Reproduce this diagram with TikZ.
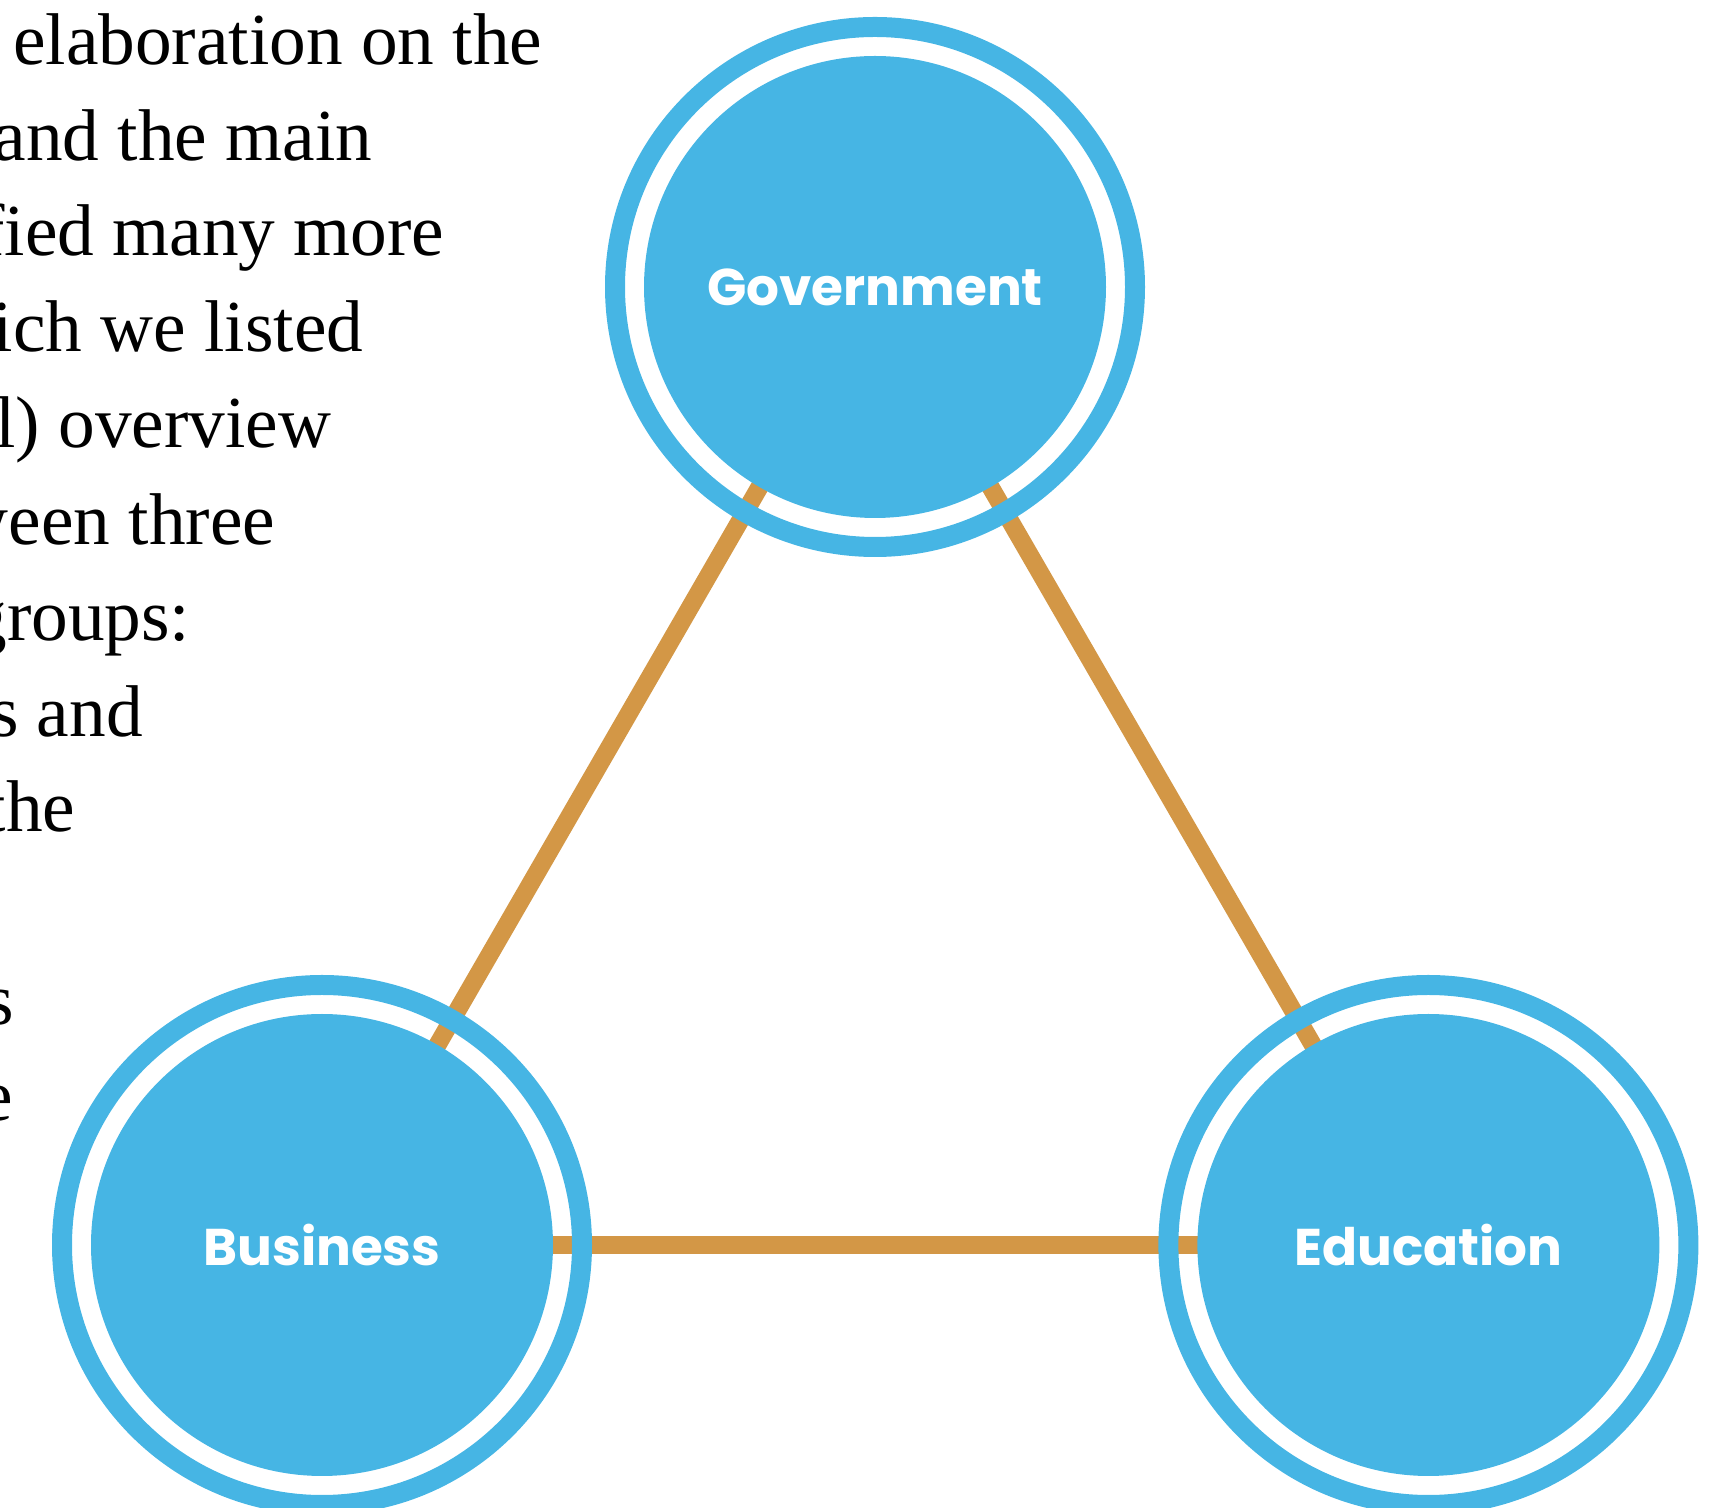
\documentclass[tikz,border=0pt]{standalone}
\usepackage{fontspec}
\setmainfont{Liberation Serif}
\setsansfont{Poppins}
\usepackage{tikz}
\usetikzlibrary{positioning, backgrounds}
\definecolor{NodeBlue}{HTML}{46B5E4}
\definecolor{LinkGold}{HTML}{D39746}
\tikzset{
  % Circle styles
  ringnode/.style={circle, draw=NodeBlue, line width=2mm, minimum size=5.2cm, inner sep=0pt},
  corenode/.style={circle, fill=NodeBlue, minimum size=4.62cm, inner sep=0pt, text=white, font=\sffamily\bfseries\fontsize{14.7}{17}\selectfont},
  % Line styles
  linkline/.style={line width=1.8mm, LinkGold},
  % Text styles
  bodytext/.style={anchor=base east, inner sep=0pt, font=\fontsize{20.85}{27.3}\selectfont}
}

\begin{document}
\begin{tikzpicture}
  \useasboundingbox (0,0) rectangle (17.11,-15.08);

  % Cropped paragraph on the left
  \node[bodytext] (line1) at (5.43,-0.65) {elaboration on the};
  \node[bodytext] (line2) at (3.73,-1.61) {and the main};
  \node[bodytext] (line3) at (4.45,-2.56) {fied many more};
  \node[bodytext] (line4) at (3.64,-3.52) {ich we listed};
  \node[bodytext] (line5) at (3.32,-4.48) {l) overview};
  \node[bodytext] (line6) at (2.76,-5.45) {ween three};
  \node[bodytext] (line7) at (1.91,-6.41) {groups:};
  \node[bodytext] (line8) at (1.435,-7.37) {s and};
  \node[bodytext] (line9) at (0.76,-8.32) {the};
  \node[bodytext] (line10) at (0.15,-10.25) {s};
  \node[bodytext] (line11) at (0.134,-11.21) {e};

  % Stakeholder circles
  \node[corenode] (gov) at (8.75,-2.87) {Government};
  \node[corenode] (bus) at (3.22,-12.45) {Business};
  \node[corenode, right=6.43cm of bus] (edu) {Education};
  \node[ringnode] (govring) at (gov) {};
  \node[ringnode] (busring) at (bus) {};
  \node[ringnode] (eduring) at (edu) {};

  % Links
  \begin{scope}[on background layer]
    \draw[linkline] (gov.center) -- (bus.center);
    \draw[linkline] (gov.center) -- (edu.center);
    \draw[linkline] (bus.center) -- (edu.center);
  \end{scope}
\end{tikzpicture}
\end{document}
